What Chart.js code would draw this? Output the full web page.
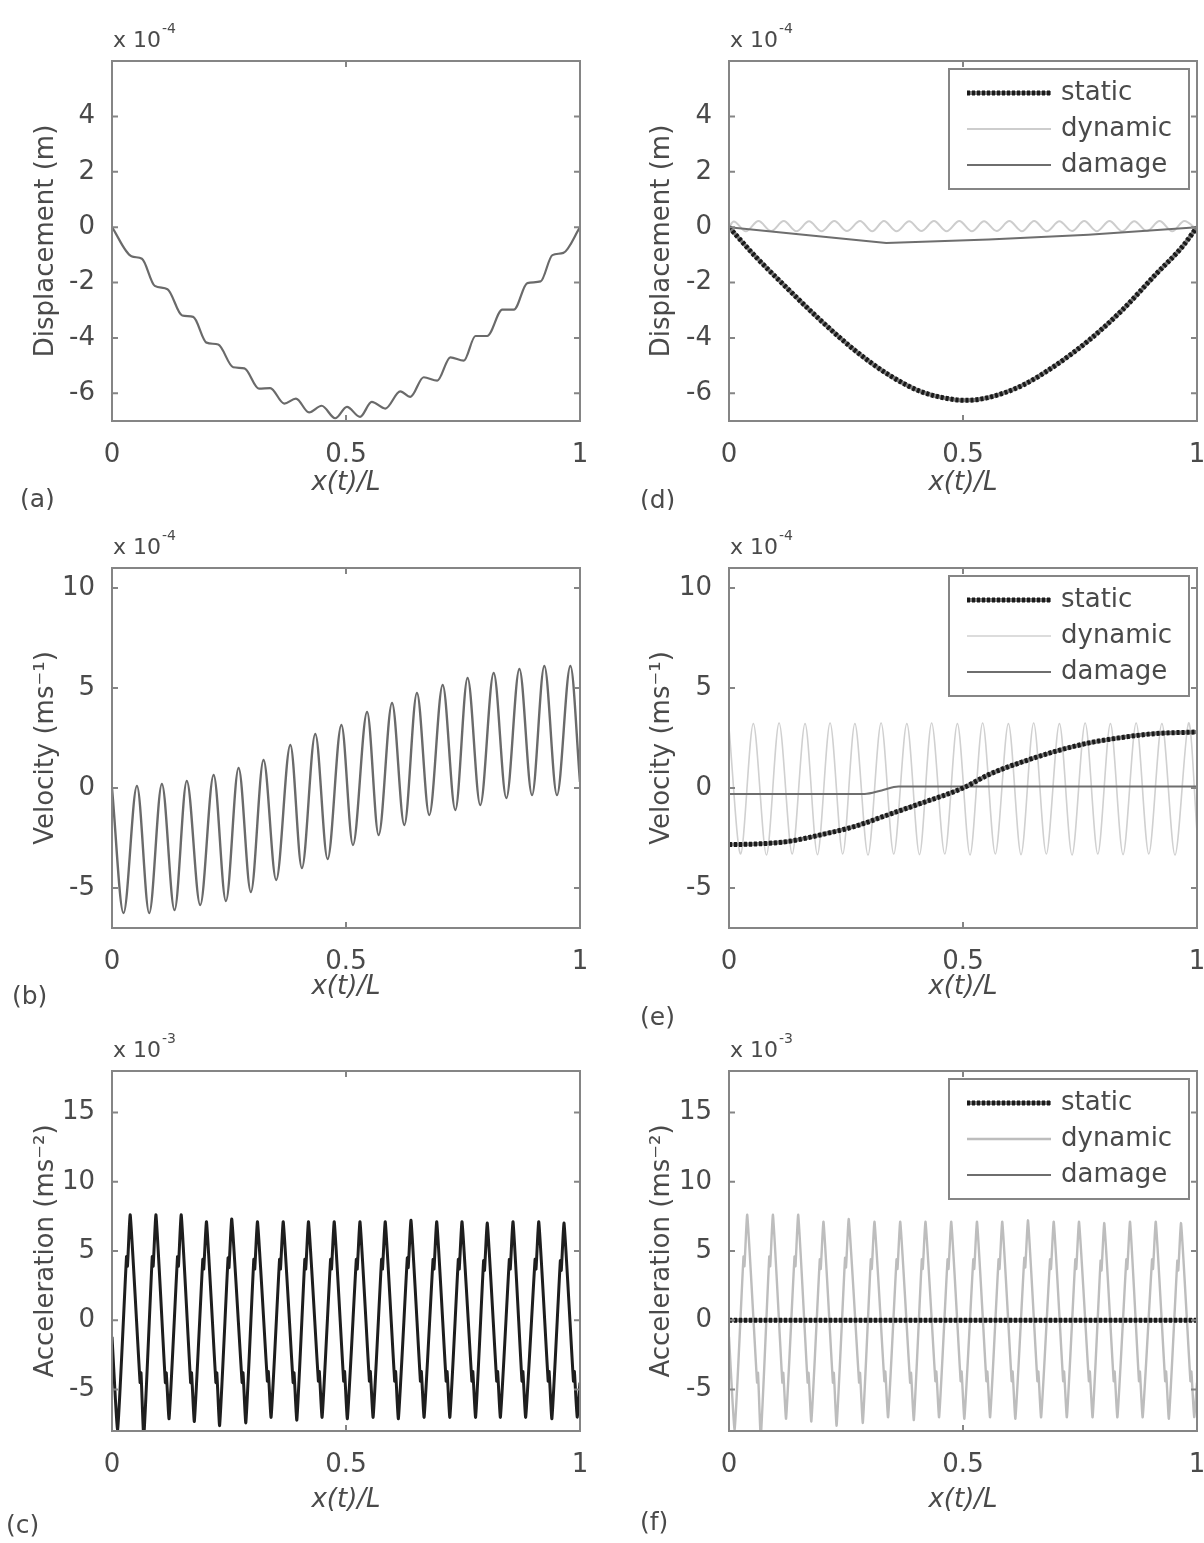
<!DOCTYPE html>
<html>
<head>
<meta charset="utf-8">
<title>Moving load response</title>
<script src="https://cdn.jsdelivr.net/npm/chart.js@4.4.1/dist/chart.umd.min.js"></script>
<style>
  html, body { margin: 0; padding: 0; background: #fff; width: 1204px; height: 1543px; overflow: hidden; }
  canvas { position: absolute; }
</style>
</head>
<body>
<canvas id="panelA" width="600" height="510" style="left:0px;top:0px"></canvas>
<canvas id="panelB" width="600" height="525" style="left:0px;top:510px"></canvas>
<canvas id="panelC" width="600" height="523" style="left:0px;top:1020px"></canvas>
<canvas id="panelD" width="600" height="510" style="left:615px;top:0px"></canvas>
<canvas id="panelE" width="600" height="525" style="left:615px;top:510px"></canvas>
<canvas id="panelF" width="600" height="523" style="left:615px;top:1020px"></canvas>
<script>
// Beam response under a moving load, plotted against load position x(t)/L.
// Displacement and velocity are in units of 1e-4, acceleration in 1e-3.

const xTicks = [0, 0.5, 1];
const dispTicks = [-6, -4, -2, 0, 2, 4];
const velTicks = [-5, 0, 5, 10];
const accTicks = [-5, 0, 5, 10, 15];

// (a) total displacement
const dispTotalX = [0, 0.0415, 0.064, 0.0914, 0.1186, 0.150, 0.1735, 0.202, 0.227, 0.259, 0.283,
  0.314, 0.338, 0.368, 0.393, 0.421, 0.448, 0.477, 0.502, 0.530, 0.555, 0.584, 0.616, 0.6375,
  0.666, 0.695, 0.723, 0.7516, 0.7767, 0.8017, 0.834, 0.8587, 0.8874, 0.9158, 0.941, 0.9645, 1];
const dispTotalY = [0, -1.05, -1.14, -2.12, -2.24, -3.19, -3.24, -4.17, -4.24, -5.06, -5.10,
  -5.83, -5.81, -6.37, -6.19, -6.69, -6.45, -6.90, -6.49, -6.85, -6.31, -6.55, -5.93, -6.13,
  -5.42, -5.54, -4.70, -4.82, -3.93, -3.93, -2.98, -2.98, -2.02, -1.96, -1.01, -0.93, 0];

// (b) total velocity, troughs and crests
const velTotalX = [0,
  0.0246, 0.0533, 0.0795, 0.1066, 0.1336, 0.1598, 0.1885, 0.2172, 0.2434, 0.2705,
  0.2967, 0.3238, 0.3508, 0.3811, 0.4057, 0.4344, 0.4607, 0.4902, 0.5148, 0.5451,
  0.5697, 0.5984, 0.6246, 0.6516, 0.6779, 0.7066, 0.7336, 0.7598, 0.7869, 0.8156,
  0.8426, 0.8705, 0.8975, 0.9238, 0.9508, 0.9795,
  1];
const velTotalY = [0,
  -6.25, 0.1, -6.25, 0.2, -6.1, 0.35, -5.85, 0.65, -5.65, 1.0,
  -5.2, 1.4, -4.6, 2.15, -4.0, 2.7, -3.55, 3.15, -2.85, 3.8,
  -2.35, 4.25, -1.85, 4.75, -1.35, 5.15, -1.1, 5.5, -0.85, 5.75,
  -0.5, 5.95, -0.35, 6.1, -0.35, 6.1,
  0.3];

// (c) total acceleration, also the dynamic trace in (f): trough, two jag points, crest, two jag points
const accX = [0,
  0.012, 0.031, 0.033, 0.039, 0.060, 0.062,
  0.068, 0.086, 0.088, 0.094, 0.114, 0.116,
  0.122, 0.140, 0.142, 0.148, 0.168, 0.170,
  0.176, 0.194, 0.196, 0.202, 0.222, 0.224,
  0.230, 0.248, 0.250, 0.256, 0.278, 0.280,
  0.286, 0.303, 0.305, 0.311, 0.332, 0.334,
  0.340, 0.358, 0.360, 0.366, 0.387, 0.389,
  0.395, 0.412, 0.414, 0.420, 0.441, 0.443,
  0.449, 0.467, 0.469, 0.475, 0.495, 0.497,
  0.503, 0.522, 0.524, 0.530, 0.550, 0.552,
  0.558, 0.576, 0.578, 0.584, 0.604, 0.606,
  0.612, 0.631, 0.633, 0.639, 0.659, 0.661,
  0.667, 0.686, 0.688, 0.694, 0.714, 0.716,
  0.722, 0.740, 0.742, 0.748, 0.769, 0.771,
  0.777, 0.794, 0.796, 0.802, 0.822, 0.824,
  0.830, 0.849, 0.851, 0.857, 0.876, 0.878,
  0.884, 0.904, 0.906, 0.912, 0.932, 0.934,
  0.940, 0.958, 0.960, 0.966, 0.986, 0.988,
  0.994, 1];
const accY = [-1.2,
  -7.9, 4.6, 3.9, 7.6, -4.5, -3.8,
  -8.4, 4.6, 3.9, 7.6, -4.5, -3.8,
  -7.1, 4.6, 3.9, 7.6, -4.5, -3.8,
  -7.3, 4.4, 3.7, 7.1, -4.5, -3.8,
  -7.6, 4.5, 3.8, 7.3, -4.5, -3.8,
  -7.4, 4.4, 3.7, 7.1, -4.4, -3.7,
  -7.0, 4.4, 3.7, 7.1, -4.5, -3.8,
  -7.2, 4.4, 3.7, 7.1, -4.4, -3.7,
  -7.0, 4.4, 3.7, 7.1, -4.4, -3.7,
  -7.1, 4.4, 3.7, 7.1, -4.4, -3.7,
  -7.0, 4.4, 3.7, 7.1, -4.4, -3.7,
  -7.1, 4.5, 3.8, 7.2, -4.4, -3.7,
  -7.0, 4.4, 3.7, 7.1, -4.4, -3.7,
  -7.0, 4.4, 3.7, 7.1, -4.4, -3.7,
  -7.0, 4.3, 3.6, 7.0, -4.4, -3.7,
  -7.0, 4.4, 3.7, 7.1, -4.4, -3.7,
  -7.0, 4.4, 3.7, 7.1, -4.4, -3.7,
  -7.1, 4.3, 3.6, 7.0, -4.4, -3.7,
  -7.0, -4.5];

// (d) displacement components
const staticDispX = [0, 0.056, 0.127, 0.198, 0.269, 0.341, 0.412, 0.483, 0.508, 0.555, 0.626, 0.697, 0.768, 0.840, 0.911, 0.968, 1];
const staticDispY = [0, -1.05, -2.25, -3.4, -4.45, -5.33, -5.95, -6.23, -6.25, -6.15, -5.72, -5.0, -4.1, -3.0, -1.72, -0.72, 0];
const dynDispX = [0, 0.010,
  0.036, 0.063, 0.090, 0.117, 0.144, 0.171, 0.198, 0.225, 0.252, 0.280,
  0.306, 0.331, 0.358, 0.385, 0.411, 0.438, 0.465, 0.492, 0.519, 0.545,
  0.572, 0.599, 0.626, 0.652, 0.679, 0.706, 0.733, 0.759, 0.786, 0.813,
  0.840, 0.866, 0.893, 0.920, 0.947, 0.973,
  1];
const dynDispY = [0, 0.2,
  -0.15, 0.22, -0.14, 0.22, -0.15, 0.21, -0.15, 0.22, -0.14, 0.22,
  -0.15, 0.22, -0.15, 0.21, -0.14, 0.22, -0.15, 0.22, -0.15, 0.21,
  -0.14, 0.22, -0.15, 0.22, -0.15, 0.21, -0.14, 0.22, -0.15, 0.22,
  -0.15, 0.21, -0.14, 0.22, -0.15, 0.22,
  -0.1];
const damageDispX = [0, 0.17, 0.336, 0.555, 0.768, 1];
const damageDispY = [0, -0.29, -0.57, -0.45, -0.27, 0];

// (e) velocity components
const staticVelX = [0, 0.056, 0.127, 0.198, 0.269, 0.341, 0.412, 0.5, 0.555, 0.626, 0.697, 0.768, 0.840, 0.911, 1];
const staticVelY = [-2.83, -2.8, -2.67, -2.33, -1.92, -1.33, -0.75, 0, 0.67, 1.3, 1.83, 2.25, 2.53, 2.72, 2.8];
const dynVelX = [0,
  0.025, 0.052, 0.080, 0.107, 0.135, 0.1625, 0.189, 0.216, 0.243, 0.269,
  0.297, 0.325, 0.352, 0.380, 0.407, 0.433, 0.461, 0.488, 0.515, 0.542,
  0.569, 0.597, 0.624, 0.651, 0.678, 0.706, 0.733, 0.761, 0.788, 0.815,
  0.842, 0.870, 0.897, 0.925, 0.953, 0.982,
  1];
const dynVelY = [3.0,
  -3.3, 3.22, -3.35, 3.25, -3.3, 3.22, -3.33, 3.25, -3.3, 3.22,
  -3.35, 3.25, -3.3, 3.22, -3.33, 3.25, -3.3, 3.22, -3.35, 3.25,
  -3.3, 3.22, -3.33, 3.25, -3.3, 3.22, -3.35, 3.25, -3.3, 3.22,
  -3.33, 3.25, -3.3, 3.22, -3.35, 3.25,
  -2.2];
const damageVelX = [0, 0.29, 0.326, 0.362, 1];
const damageVelY = [-0.3, -0.3, -0.12, 0.08, 0.08];

// (f) acceleration components (dynamic part uses accX / accY)
const staticAccX = [0, 1];
const staticAccY = [0, 0];
const damageAccX = [0, 1];
const damageAccY = [0, 0];

const FONT = '"DejaVu Sans", sans-serif';
const TEXT = '#4a4a4a';
const FRAME = '#858585';

Chart.defaults.font.family = FONT;
Chart.defaults.color = TEXT;

// per-row / per-column geometry of the plot boxes
const ROWS = [
  { padTop: 61, xHeight: 89, xTitlePad: 11 },
  { padTop: 58, xHeight: 107, xTitlePad: 32 },
  { padTop: 51, xHeight: 112, xTitlePad: 27 }
];
const COLS = [
  { yWidth: 112, padRight: 20, yTitlePad: 31 },
  { yWidth: 114, padRight: 18, yTitlePad: 32 }
];

function xy(xs, ys) {
  return xs.map((x, i) => ({ x: x, y: ys[i] }));
}

function staticSets(xs, ys) {
  return [
    { label: 'static', data: xy(xs, ys), borderColor: '#1a1a1a', borderWidth: 5, borderDash: [3, 2],
      underColor: '#7c7c7c', cubicInterpolationMode: 'monotone', order: 0 },
    { data: xy(xs, ys), borderColor: '#7c7c7c', borderWidth: 4, cubicInterpolationMode: 'monotone', order: 1 }
  ];
}

function strokeSample(ctx, left, y, color, width, dash) {
  ctx.save();
  ctx.strokeStyle = color;
  ctx.lineWidth = width;
  ctx.setLineDash(dash);
  ctx.beginPath();
  ctx.moveTo(left + 18, y);
  ctx.lineTo(left + 102, y);
  ctx.stroke();
  ctx.restore();
}

function drawLegend(chart, ctx, a) {
  const left = a.right - 248, top = a.top + 8, w = 240, h = 120;
  ctx.fillStyle = '#fff';
  ctx.fillRect(left, top, w, h);
  ctx.strokeStyle = FRAME;
  ctx.lineWidth = 2;
  ctx.setLineDash([]);
  ctx.strokeRect(left, top, w, h);
  let row = 0;
  chart.data.datasets.forEach(ds => {
    if (!ds.label) return;
    const y = top + 24 + row * 36;
    if (ds.underColor) strokeSample(ctx, left, y, ds.underColor, ds.borderWidth - 1, []);
    strokeSample(ctx, left, y, ds.borderColor, ds.borderWidth, ds.borderDash || []);
    ctx.fillStyle = TEXT;
    ctx.font = '26px ' + FONT;
    ctx.textAlign = 'left';
    ctx.textBaseline = 'middle';
    ctx.fillText(ds.label, left + 112, y);
    row++;
  });
}

// box with inward tick marks, exponent note, panel letter and legend
const panelFrame = {
  id: 'panelFrame',
  afterDraw(chart, args, opts) {
    const ctx = chart.ctx;
    const a = chart.chartArea;
    const sx = chart.scales.x, sy = chart.scales.y;
    ctx.save();
    ctx.strokeStyle = FRAME;
    ctx.lineWidth = 2;
    ctx.strokeRect(a.left, a.top, a.right - a.left, a.bottom - a.top);
    ctx.beginPath();
    sx.ticks.forEach(t => {
      const px = sx.getPixelForValue(t.value);
      ctx.moveTo(px, a.bottom); ctx.lineTo(px, a.bottom - 6);
      ctx.moveTo(px, a.top); ctx.lineTo(px, a.top + 6);
    });
    sy.ticks.forEach(t => {
      const py = sy.getPixelForValue(t.value);
      ctx.moveTo(a.left, py); ctx.lineTo(a.left + 6, py);
      ctx.moveTo(a.right, py); ctx.lineTo(a.right - 6, py);
    });
    ctx.stroke();

    ctx.fillStyle = TEXT;
    ctx.textAlign = 'left';
    ctx.textBaseline = 'alphabetic';
    ctx.font = '22px ' + FONT;
    ctx.fillText('x 10', a.left + 1, a.top - 14);
    const w = ctx.measureText('x 10').width;
    ctx.font = '14px ' + FONT;
    ctx.fillText(opts.exponent, a.left + w + 2, a.top - 28);

    ctx.font = '25px ' + FONT;
    ctx.textBaseline = 'middle';
    ctx.fillText(opts.letter, opts.letterX, opts.letterY);

    if (opts.legend) drawLegend(chart, ctx, a);
    ctx.restore();
  }
};

function makePanel(id, p) {
  const row = ROWS[p.row], col = COLS[p.col];
  return new Chart(document.getElementById(id), {
    type: 'line',
    data: { datasets: p.datasets },
    options: {
      responsive: false,
      animation: false,
      devicePixelRatio: 1,
      events: [],
      layout: { padding: { top: row.padTop, right: col.padRight, bottom: 0, left: 0 } },
      elements: { point: { radius: 0 } },
      plugins: {
        legend: { display: false },
        tooltip: { enabled: false },
        panelFrame: {
          exponent: p.exponent, letter: p.letter,
          letterX: p.letterX, letterY: p.letterY, legend: p.legend
        }
      },
      scales: {
        x: {
          type: 'linear',
          min: 0,
          max: 1,
          grid: { display: false },
          border: { display: false },
          ticks: { font: { size: 26 }, padding: 11, callback: v => String(v) },
          afterBuildTicks: s => { s.ticks = xTicks.map(v => ({ value: v })); },
          afterFit: s => { s.height = row.xHeight; s.paddingLeft = 0; s.paddingRight = 0; },
          title: {
            display: true, text: 'x(t)/L',
            font: { size: 26, style: 'italic' },
            padding: { top: 0, bottom: row.xTitlePad }
          }
        },
        y: {
          type: 'linear',
          min: p.yMin,
          max: p.yMax,
          grid: { display: false },
          border: { display: false },
          ticks: { font: { size: 26 }, padding: 9, callback: v => String(v) },
          afterBuildTicks: s => { s.ticks = p.yTicks.map(v => ({ value: v })); },
          afterFit: s => { s.width = col.yWidth; s.paddingTop = 0; s.paddingBottom = 0; },
          title: {
            display: true, text: p.yTitle,
            font: { size: 26 },
            padding: col.yTitlePad
          }
        }
      }
    },
    plugins: [panelFrame]
  });
}

makePanel('panelA', {
  row: 0, col: 0, yMin: -7, yMax: 6, yTicks: dispTicks, yTitle: 'Displacement (m)',
  exponent: '-4', letter: '(a)', letterX: 20, letterY: 500,
  datasets: [
    { data: xy(dispTotalX, dispTotalY), borderColor: '#6a6a6a', borderWidth: 2.2, cubicInterpolationMode: 'monotone' }
  ]
});

makePanel('panelB', {
  row: 1, col: 0, yMin: -7, yMax: 11, yTicks: velTicks, yTitle: 'Velocity (ms\u207B\u00B9)',
  exponent: '-4', letter: '(b)', letterX: 12, letterY: 487,
  datasets: [
    { data: xy(velTotalX, velTotalY), borderColor: '#6a6a6a', borderWidth: 2.4, cubicInterpolationMode: 'monotone' }
  ]
});

makePanel('panelC', {
  row: 2, col: 0, yMin: -8, yMax: 18, yTicks: accTicks, yTitle: 'Acceleration (ms\u207B\u00B2)',
  exponent: '-3', letter: '(c)', letterX: 6, letterY: 506,
  datasets: [
    { data: xy(accX, accY), borderColor: '#1e1e1e', borderWidth: 3, tension: 0.15 }
  ]
});

makePanel('panelD', {
  row: 0, col: 1, yMin: -7, yMax: 6, yTicks: dispTicks, yTitle: 'Displacement (m)',
  exponent: '-4', letter: '(d)', letterX: 25, letterY: 501, legend: true,
  datasets: staticSets(staticDispX, staticDispY).concat([
    { label: 'dynamic', data: xy(dynDispX, dynDispY), borderColor: '#cdcdcd', borderWidth: 2, cubicInterpolationMode: 'monotone', order: 3 },
    { label: 'damage', data: xy(damageDispX, damageDispY), borderColor: '#6e6e6e', borderWidth: 2, order: 2 }
  ])
});

makePanel('panelE', {
  row: 1, col: 1, yMin: -7, yMax: 11, yTicks: velTicks, yTitle: 'Velocity (ms\u207B\u00B9)',
  exponent: '-4', letter: '(e)', letterX: 25, letterY: 508, legend: true,
  datasets: staticSets(staticVelX, staticVelY).concat([
    { label: 'dynamic', data: xy(dynVelX, dynVelY), borderColor: '#d0d0d0', borderWidth: 1.6, tension: 0.3, order: 3 },
    { label: 'damage', data: xy(damageVelX, damageVelY), borderColor: '#6e6e6e', borderWidth: 2, cubicInterpolationMode: 'monotone', order: 2 }
  ])
});

makePanel('panelF', {
  row: 2, col: 1, yMin: -8, yMax: 18, yTicks: accTicks, yTitle: 'Acceleration (ms\u207B\u00B2)',
  exponent: '-3', letter: '(f)', letterX: 25, letterY: 503, legend: true,
  datasets: staticSets(staticAccX, staticAccY).concat([
    { label: 'dynamic', data: xy(accX, accY), borderColor: '#bdbdbd', borderWidth: 2.4, tension: 0.15, order: 3 },
    { label: 'damage', data: xy(damageAccX, damageAccY), borderColor: '#6e6e6e', borderWidth: 2, order: 2 }
  ])
});
</script>
</body>
</html>
